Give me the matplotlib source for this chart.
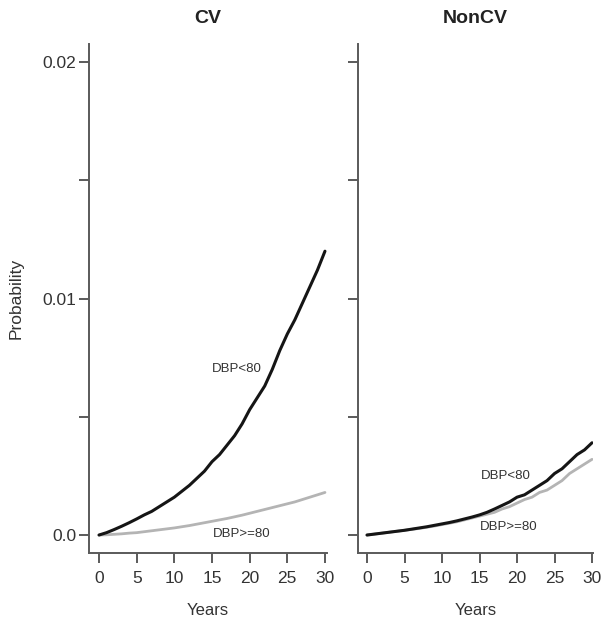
import matplotlib
matplotlib.use("Agg")
import matplotlib.pyplot as plt

plt.rcParams['font.family'] = ['Liberation Sans', 'DejaVu Sans']

years = [0, 1, 2, 3, 4, 5, 6, 7, 8, 9, 10, 11, 12, 13, 14, 15,
         16, 17, 18, 19, 20, 21, 22, 23, 24, 25, 26, 27, 28, 29, 30]
cv_low = [0.0, 0.0001, 0.00023, 0.00037, 0.00052, 0.00068, 0.00085, 0.0010, 0.0012, 0.0014,
          0.0016, 0.00185, 0.0021, 0.0024, 0.0027, 0.0031, 0.0034, 0.0038, 0.0042, 0.0047,
          0.0053, 0.0058, 0.0063, 0.0070, 0.0078, 0.0085, 0.0091, 0.0098, 0.0105, 0.0112, 0.0120]
cv_high = [0.0, 0.00001, 0.00003, 0.00005, 0.00008, 0.0001, 0.00014, 0.00018, 0.00022, 0.00026,
           0.0003, 0.00035, 0.0004, 0.00046, 0.00052, 0.00058, 0.00064, 0.0007, 0.00077, 0.00084,
           0.00092, 0.001, 0.00108, 0.00116, 0.00124, 0.00132, 0.0014, 0.0015, 0.0016, 0.0017, 0.0018]
ncv_low = [0.0, 0.00004, 0.00008, 0.00012, 0.00016, 0.0002, 0.00025, 0.0003, 0.00035, 0.00041,
           0.00047, 0.00053, 0.0006, 0.00068, 0.00076, 0.00085, 0.00096, 0.0011, 0.00125, 0.0014,
           0.0016, 0.0017, 0.0019, 0.0021, 0.0023, 0.0026, 0.0028, 0.0031, 0.0034, 0.0036, 0.0039]
ncv_high = [0.0, 0.00004, 0.00008, 0.00012, 0.00016, 0.0002, 0.00024, 0.00028, 0.00033, 0.00038,
            0.00044, 0.0005, 0.00056, 0.00064, 0.00072, 0.0008, 0.00088, 0.00096, 0.0011, 0.0012,
            0.00135, 0.0015, 0.0016, 0.0018, 0.0019, 0.0021, 0.0023, 0.0026, 0.0028, 0.003, 0.0032]

panel_titles = ["CV", "NonCV"]
series_labels = ["DBP<80", "DBP>=80"]
xticks = [0, 5, 10, 15, 20, 25, 30]
yticks = [0, 0.005, 0.01, 0.015, 0.02]
ytick_labels = ["0.0", "", "0.01", "", "0.02"]

W, H = 609, 617
fig = plt.figure(figsize=(W / 100, H / 100), dpi=100)

def ax_rect(x0, x1, ytop, ybot):
    return [x0 / W, 1 - ybot / H, (x1 - x0) / W, (ybot - ytop) / H]

ax1 = fig.add_axes(ax_rect(89, 327, 44, 553))
ax2 = fig.add_axes(ax_rect(358, 593, 44, 553))

spine_col = '#5a5a5a'
text_col = '#333333'
black = '#151515'
gray = '#b4b4b4'

data = [(cv_low, cv_high), (ncv_low, ncv_high)]
xlims = [(-1.33, 30.27), (-1.2, 30.13)]

for i, ax in enumerate([ax1, ax2]):
    low, high = data[i]
    ax.plot(years, high, color=gray, lw=2.0, solid_capstyle='round', solid_joinstyle='round')
    ax.plot(years, low, color=black, lw=2.2, solid_capstyle='round', solid_joinstyle='round')
    ax.set_xlim(*xlims[i])
    ax.set_ylim(-0.00076, 0.02076)
    for s in ['top', 'right']:
        ax.spines[s].set_visible(False)
    for s in ['left', 'bottom']:
        ax.spines[s].set_color(spine_col)
        ax.spines[s].set_linewidth(1.4)
    ax.set_xticks(xticks)
    ax.set_xticklabels([str(t) for t in xticks])
    ax.set_yticks(yticks)
    if i == 0:
        ax.set_yticklabels(ytick_labels)
        ax.set_ylabel("Probability", fontsize=12.5, color=text_col, labelpad=14)
    else:
        ax.set_yticklabels([""] * len(yticks))
    ax.tick_params(axis='both', colors=spine_col, labelcolor=text_col,
                   width=1.4, length=7, labelsize=12.5)
    ax.tick_params(axis='x', pad=6)
    ax.tick_params(axis='y', pad=2)
    ax.set_xlabel("Years", fontsize=12, color=text_col, labelpad=12)
    ax.set_title(panel_titles[i], fontsize=14, fontweight='bold', color='#222222', pad=15)

ax1.text(18.3, 0.0070, series_labels[0], fontsize=9.5, color=text_col, ha='center', va='center')
ax1.text(19.0, 0.00005, series_labels[1], fontsize=9.5, color=text_col, ha='center', va='center')
ax2.text(18.5, 0.0025, series_labels[0], fontsize=9.5, color=text_col, ha='center', va='center')
ax2.text(18.9, 0.00035, series_labels[1], fontsize=9.5, color=text_col, ha='center', va='center')

fig.savefig("out.png", dpi=100, facecolor='white')
